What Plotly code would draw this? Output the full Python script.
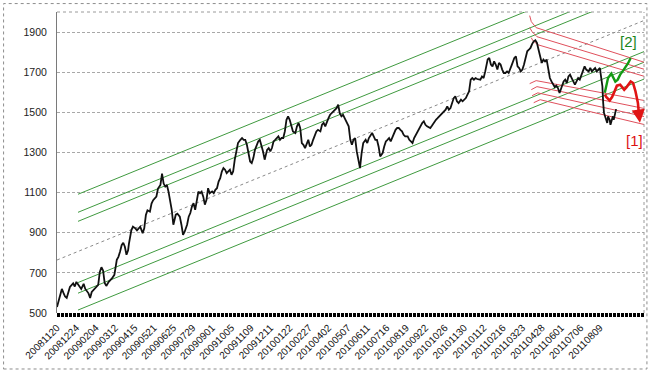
import plotly.graph_objects as go

# ---------------- data ----------------
tick_labels = ["20081120", "20081224", "20090204", "20090312", "20090415", "20090521",
               "20090625", "20090729", "20090901", "20091005", "20091109", "20091211",
               "20100122", "20100227", "20100402", "20100507", "20100611", "20100716",
               "20100819", "20100922", "20101026", "20101130", "20110112", "20110216",
               "20110323", "20110428", "20110601", "20110706", "20110809"]
tick_days = [i * 24 for i in range(len(tick_labels))]

days_a = [0, 2, 5, 6, 8, 10, 12, 16, 20, 22, 24, 27, 30, 33, 35, 39, 41, 43, 46, 49,
          51, 53, 55, 57, 59, 61, 64, 68, 71, 74, 76, 78, 80, 82, 84, 86, 88, 89, 92, 94,
          97, 99, 103, 106, 108, 110, 112, 115, 117, 119, 121, 123, 125, 128, 130, 132, 134, 136, 138, 140,
          142, 144, 145, 147, 149, 152, 154, 156, 158, 161, 163, 165, 167, 169, 171, 173, 175, 177, 179, 181,
          183]
close_a = [530, 565, 615, 620, 600, 582, 575, 630, 648, 632, 655, 640, 620, 645, 620, 598, 575, 605, 620, 630,
           640, 705, 728, 712, 650, 635, 655, 672, 690, 765, 780, 805, 838, 850, 830, 790, 812, 845, 912, 930,
           922, 912, 930, 898, 922, 988, 1012, 1005, 1045, 1062, 1070, 1080, 1120, 1138, 1195, 1145, 1130, 1138, 1105, 1064,
           1014, 940, 964, 990, 995, 980, 940, 890, 905, 940, 980, 998, 1030, 1047, 1014, 1072, 1105, 1097, 1105, 1080,
           1040]

days_b = [185, 187, 189, 192, 194, 196, 198, 200, 202, 204, 206, 208, 210, 212, 214, 216, 218, 220, 222, 224,
          227, 229, 231, 233, 235, 237, 239, 241, 243, 245, 247, 249, 251, 253, 255, 257, 260, 262, 264, 266,
          268, 270, 272, 274, 276, 278, 280, 282, 284, 286, 288, 290, 292, 295, 297, 299, 301, 303, 305, 307,
          309, 311, 313, 315, 317, 319, 321, 323, 326, 328, 330, 332, 334, 336, 338, 340, 342, 344, 346, 348,
          350, 352, 354, 356, 358, 361, 363, 365, 367, 369, 371, 373, 375, 377, 379]
close_b = [1064, 1122, 1097, 1106, 1097, 1114, 1122, 1155, 1172, 1205, 1222, 1214, 1197, 1205, 1214, 1189, 1205, 1264, 1313, 1347,
           1363, 1372, 1363, 1363, 1338, 1288, 1255, 1247, 1272, 1313, 1338, 1355, 1363, 1338, 1305, 1264, 1313, 1322, 1305, 1322,
           1355, 1363, 1372, 1380, 1363, 1372, 1372, 1405, 1463, 1480, 1463, 1430, 1405, 1397, 1430, 1447, 1422, 1347, 1338, 1322,
           1347, 1363, 1330, 1338, 1363, 1388, 1405, 1413, 1405, 1438, 1447, 1430, 1455, 1471, 1488, 1496, 1505, 1513, 1521, 1538,
           1496, 1480, 1488, 1471, 1455, 1430, 1363, 1338, 1363, 1372, 1305, 1255, 1222, 1297, 1347]

days_c = [382, 384, 386, 388, 390, 392, 394, 396, 398, 400, 403, 405, 407, 409, 411, 413, 415, 417, 419, 421,
          423, 425, 427, 429, 431, 434, 436, 438, 440, 442, 444, 446, 448, 450, 452, 454, 456, 458, 460, 462,
          464, 467, 469, 471, 473, 475, 477, 479, 481, 483, 485, 487, 489, 491, 493, 495, 497, 500, 502, 504,
          506, 508, 510, 512, 514, 516, 518, 520, 522, 524, 526, 528, 530, 533, 535, 537, 539, 541, 543, 545,
          547, 549, 551, 553, 555, 557, 559, 561, 563, 566, 568, 570, 572, 574, 576, 578, 580, 582, 584, 586,
          588, 590, 592, 594]
close_c = [1363, 1347, 1372, 1388, 1397, 1380, 1363, 1363, 1330, 1280, 1297, 1330, 1355, 1363, 1372, 1355, 1372, 1397, 1413, 1422,
           1422, 1413, 1405, 1388, 1380, 1380, 1363, 1355, 1347, 1372, 1388, 1405, 1422, 1430, 1447, 1455, 1438, 1430, 1427, 1422,
           1433, 1455, 1463, 1471, 1480, 1488, 1493, 1505, 1513, 1530, 1513, 1521, 1546, 1571, 1580, 1555, 1546, 1563, 1555, 1563,
           1571, 1588, 1605, 1663, 1671, 1663, 1671, 1666, 1666, 1663, 1679, 1671, 1704, 1763, 1771, 1738, 1729, 1754, 1738, 1713,
           1746, 1738, 1713, 1696, 1696, 1704, 1696, 1713, 1738, 1771, 1779, 1729, 1721, 1704, 1713, 1738, 1779, 1804, 1812, 1821,
           1840, 1854, 1859, 1846]

days_d = [596, 598, 600, 602, 604, 606, 608, 610, 612, 614, 616, 618, 620, 622, 625, 627, 629, 631, 633, 635,
          637, 639, 641, 643, 645, 647, 649, 651, 653, 655, 658, 660, 662, 664, 666, 668, 670, 672, 673, 675,
          676, 677, 679, 681, 682, 684, 685, 686, 688, 689, 691, 692]
close_d = [1812, 1779, 1746, 1763, 1754, 1763, 1721, 1671, 1654, 1638, 1626, 1633, 1621, 1596, 1638, 1654, 1663, 1646, 1679, 1688,
           1671, 1654, 1638, 1654, 1671, 1663, 1688, 1713, 1729, 1713, 1704, 1721, 1704, 1713, 1721, 1704, 1713, 1721, 1688, 1630,
           1546, 1497, 1472, 1447, 1480, 1463, 1438, 1455, 1480, 1463, 1497, 1516]

# long-term regression channel (green) : centre value at day 0, slope per day, band offsets
channel_days = [0, 728]
band_days = [26, 728]
channel_center_start = 764
channel_slope = 1.643
upper_offsets = [150, 195, 285]
lower_offsets = [-155, -208, -292]

# short-term falling channel (red)
red_days = [[585, 587, 593, 728], [585, 588, 594, 728], [587, 589, 595, 728],
            [585, 593, 728], [587, 594, 728], [588, 595, 728], [590, 598, 728]]
red_vals = [[1982, 1952, 1922, 1748], [1922, 1902, 1877, 1713], [1872, 1857, 1837, 1678],
            [1643, 1658, 1558], [1613, 1628, 1518], [1583, 1597, 1478], [1548, 1563, 1438]]

# scenario paths
scen2_days = [678, 680, 682, 686, 688, 691, 694, 697, 700, 703, 707, 710]
scen2_vals = [1598, 1638, 1671, 1693, 1678, 1653, 1663, 1688, 1704, 1721, 1746, 1771]
scen2_tip = (712.5, 1782)
scen1_days = [678, 680, 684, 687, 690, 693, 697, 700, 702, 705, 708, 710, 713, 716, 719, 720.5]
scen1_vals = [1588, 1575, 1559, 1576, 1604, 1633, 1638, 1621, 1613, 1626, 1646, 1654, 1646, 1604, 1546, 1480]
scen1_tip = (721.5, 1448)
label2_pos = (706.7, 1852)
label1_pos = (715.3, 1360)

y_ticks = [500, 700, 900, 1100, 1300, 1500, 1700, 1900]

# ---------------- figure ----------------
days = days_a + days_b + days_c + days_d
closes = close_a + close_b + close_c + close_d

GREEN = "#3f9a3f"
REDL = "#e0505c"
fig = go.Figure()

def center(d):
    return channel_center_start + channel_slope * d

# dotted centre line
fig.add_trace(go.Scatter(x=channel_days, y=[center(d) for d in channel_days], mode="lines",
                         line=dict(color="#8a8a8a", width=1, dash="dot"), hoverinfo="skip"))
for off in upper_offsets + lower_offsets:
    fig.add_trace(go.Scatter(x=band_days, y=[center(d) + off for d in band_days], mode="lines",
                             line=dict(color=GREEN, width=1), hoverinfo="skip"))
for dx, vy in zip(red_days, red_vals):
    fig.add_trace(go.Scatter(x=dx, y=vy, mode="lines", line=dict(color=REDL, width=1), hoverinfo="skip"))

fig.add_trace(go.Scatter(x=days, y=closes, mode="lines", line=dict(color="#111111", width=1.8)))

fig.add_trace(go.Scatter(x=scen2_days, y=scen2_vals, mode="lines", line=dict(color="#139a13", width=2.4)))
fig.add_trace(go.Scatter(x=scen1_days, y=scen1_vals, mode="lines", line=dict(color="#e01414", width=2.6)))

fig.add_annotation(x=scen2_tip[0], y=scen2_tip[1], ax=scen2_days[-1], ay=scen2_vals[-1],
                   xref="x", yref="y", axref="x", ayref="y", text="", showarrow=True,
                   arrowhead=2, arrowsize=1.1, arrowwidth=2.2, arrowcolor="#139a13", standoff=0)
fig.add_annotation(x=scen1_tip[0], y=scen1_tip[1], ax=scen1_days[-1], ay=scen1_vals[-1],
                   xref="x", yref="y", axref="x", ayref="y", text="", showarrow=True,
                   arrowhead=2, arrowsize=1.1, arrowwidth=2.4, arrowcolor="#e01414", standoff=0)
fig.add_annotation(x=label2_pos[0], y=label2_pos[1], text="[2]", showarrow=False,
                   font=dict(family="Liberation Sans, Arial", size=15, color="#1a861a"))
fig.add_annotation(x=label1_pos[0], y=label1_pos[1], text="[1]", showarrow=False,
                   font=dict(family="Liberation Sans, Arial", size=15, color="#dd1111"))

# frame pieces
fig.add_shape(type="line", xref="paper", yref="paper", x0=0, x1=1, y0=1, y1=1,
              line=dict(color="#9a9a9a", width=1, dash="dot"))
fig.add_shape(type="line", xref="paper", yref="paper", x0=1, x1=1, y0=0, y1=1,
              line=dict(color="#9a9a9a", width=1, dash="dot"))
fig.add_shape(type="line", xref="paper", yref="paper", x0=0, x1=1, y0=-0.007, y1=-0.007,
              line=dict(color="#000000", width=4, dash="3px,1px"))
fig.add_shape(type="rect", xref="paper", yref="paper", x0=-0.091, x1=1.005, y0=-0.186, y1=1.028,
              line=dict(color="#8c8c8c", width=1, dash="dot"))

fig.update_layout(
    width=650, height=373,
    margin=dict(l=57, r=6, t=12, b=60),
    paper_bgcolor="white", plot_bgcolor="white",
    showlegend=False,
    font=dict(family="Liberation Sans, Arial", color="#222222"),
)
fig.update_xaxes(range=[0, 726.5], tickmode="array", tickvals=tick_days, ticktext=tick_labels,
                 tickangle=-45, tickfont=dict(size=10, color="#111111"), showgrid=False,
                 zeroline=False, showline=False, ticks="", ticklabelstandoff=6)
fig.update_yaxes(range=[500, 2000], tickmode="array", tickvals=y_ticks,
                 tickfont=dict(size=10.5, color="#222222"), showgrid=True, gridcolor="#a8a8a8",
                 griddash="3px,2px", gridwidth=1, zeroline=False, showline=True,
                 linecolor="#7a7a7a", linewidth=1, ticks="", ticklabelstandoff=7)

fig.write_html("out.html", config={"displayModeBar": False},
               post_script="document.body.style.margin='0';document.body.style.padding='0';document.body.style.overflow='hidden';")
